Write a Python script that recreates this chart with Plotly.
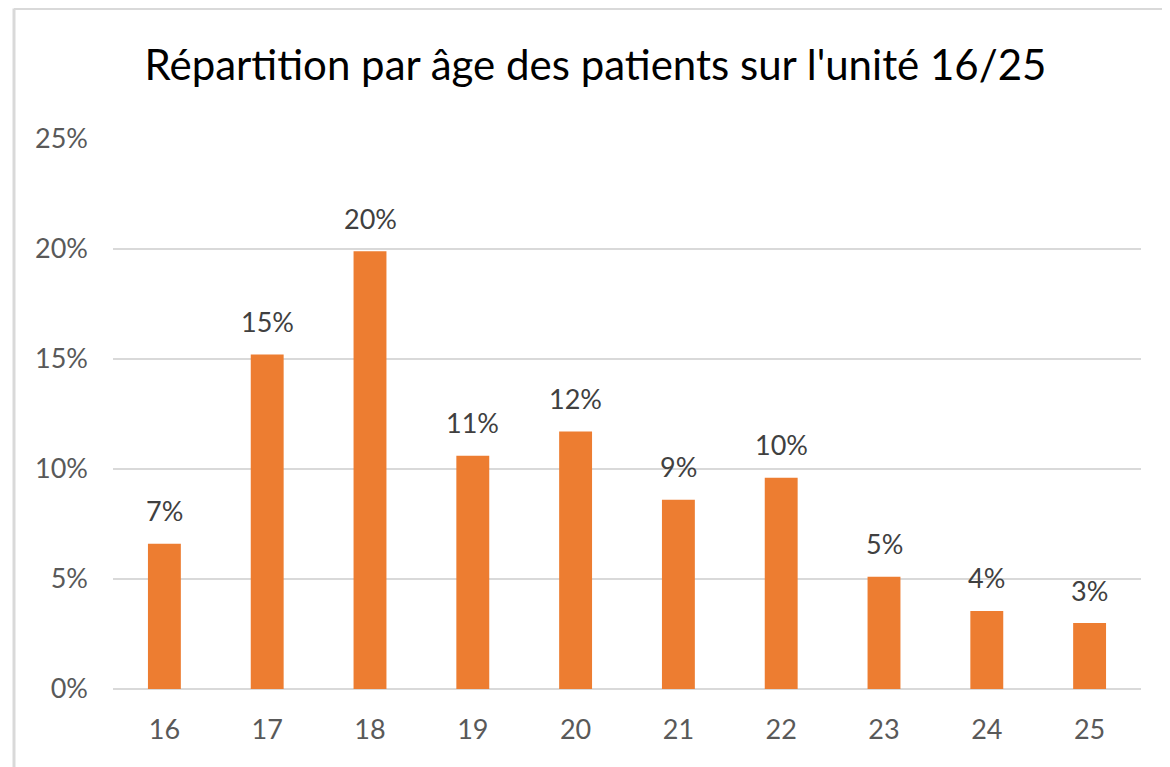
import plotly.graph_objects as go

ages = ["16", "17", "18", "19", "20", "21", "22", "23", "24", "25"]
shares = [0.066, 0.152, 0.199, 0.106, 0.117, 0.086, 0.096, 0.051, 0.0355, 0.030]
y_ticks = [0, 0.05, 0.10, 0.15, 0.20, 0.25]
y_tick_labels = ["0%", "5%", "10%", "15%", "20%", "25%"]
title_text = "Répartition par âge des patients sur l'unité 16/25"

W, H = 1170, 767
OFF = 8  # page body offset
L, R, T, B = 113 - OFF, 29 + OFF, 139 - OFF, 78 + OFF
pw, ph = W - L - R, H - T - B
FONT = "Lato, 'Open Sans', sans-serif"

fig = go.Figure()
fig.add_trace(go.Bar(
    x=ages, y=shares,
    marker=dict(color="#ED7D31", line=dict(width=0)),
    hoverinfo="x+y",
))

for i, v in enumerate(shares):
    fig.add_annotation(
        x=i, y=v, xref="x", yref="y",
        text=f"{round(v * 100):.0f}%",
        showarrow=False, yanchor="middle", yshift=33,
        font=dict(family=FONT, size=27, color="#404040"),
    )

# chart border (left and top edges visible)
bx = (14 - OFF - L) / pw
by = (H - B - 0.5) / ph
fig.add_shape(type="line", xref="paper", yref="paper", x0=bx, x1=bx, y0=by, y1=-0.3,
              line=dict(color="#d9d9d9", width=3))
fig.add_shape(type="line", xref="paper", yref="paper", x0=bx, x1=1.2, y0=by, y1=by,
              line=dict(color="#d9d9d9", width=3))

fig.update_layout(
    width=W, height=H,
    margin=dict(l=L, r=R, t=T, b=B),
    paper_bgcolor="white", plot_bgcolor="white",
    bargap=0.68,
    showlegend=False,
    title=dict(text=title_text, x=(595.5 - OFF) / W, xanchor="center", y=1 - (65 - OFF) / H,
               yanchor="middle",
               font=dict(family=FONT, size=42, color="#000000")),
    xaxis=dict(
        type="category",
        range=[-0.5, len(ages) - 0.5],
        showgrid=False, showline=False, ticks="",
        tickfont=dict(family=FONT, size=27, color="#595959"),
        ticklabelstandoff=22,
    ),
    yaxis=dict(
        range=[0, 0.25], tickvals=y_ticks, ticktext=y_tick_labels,
        showgrid=True, gridcolor="#d9d9d9", gridwidth=2,
        zeroline=True, zerolinecolor="#d9d9d9", zerolinewidth=2,
        showline=False, ticks="",
        tickfont=dict(family=FONT, size=27, color="#595959"),
        ticklabelstandoff=24,
    ),
)

fig.write_html("out.html")
